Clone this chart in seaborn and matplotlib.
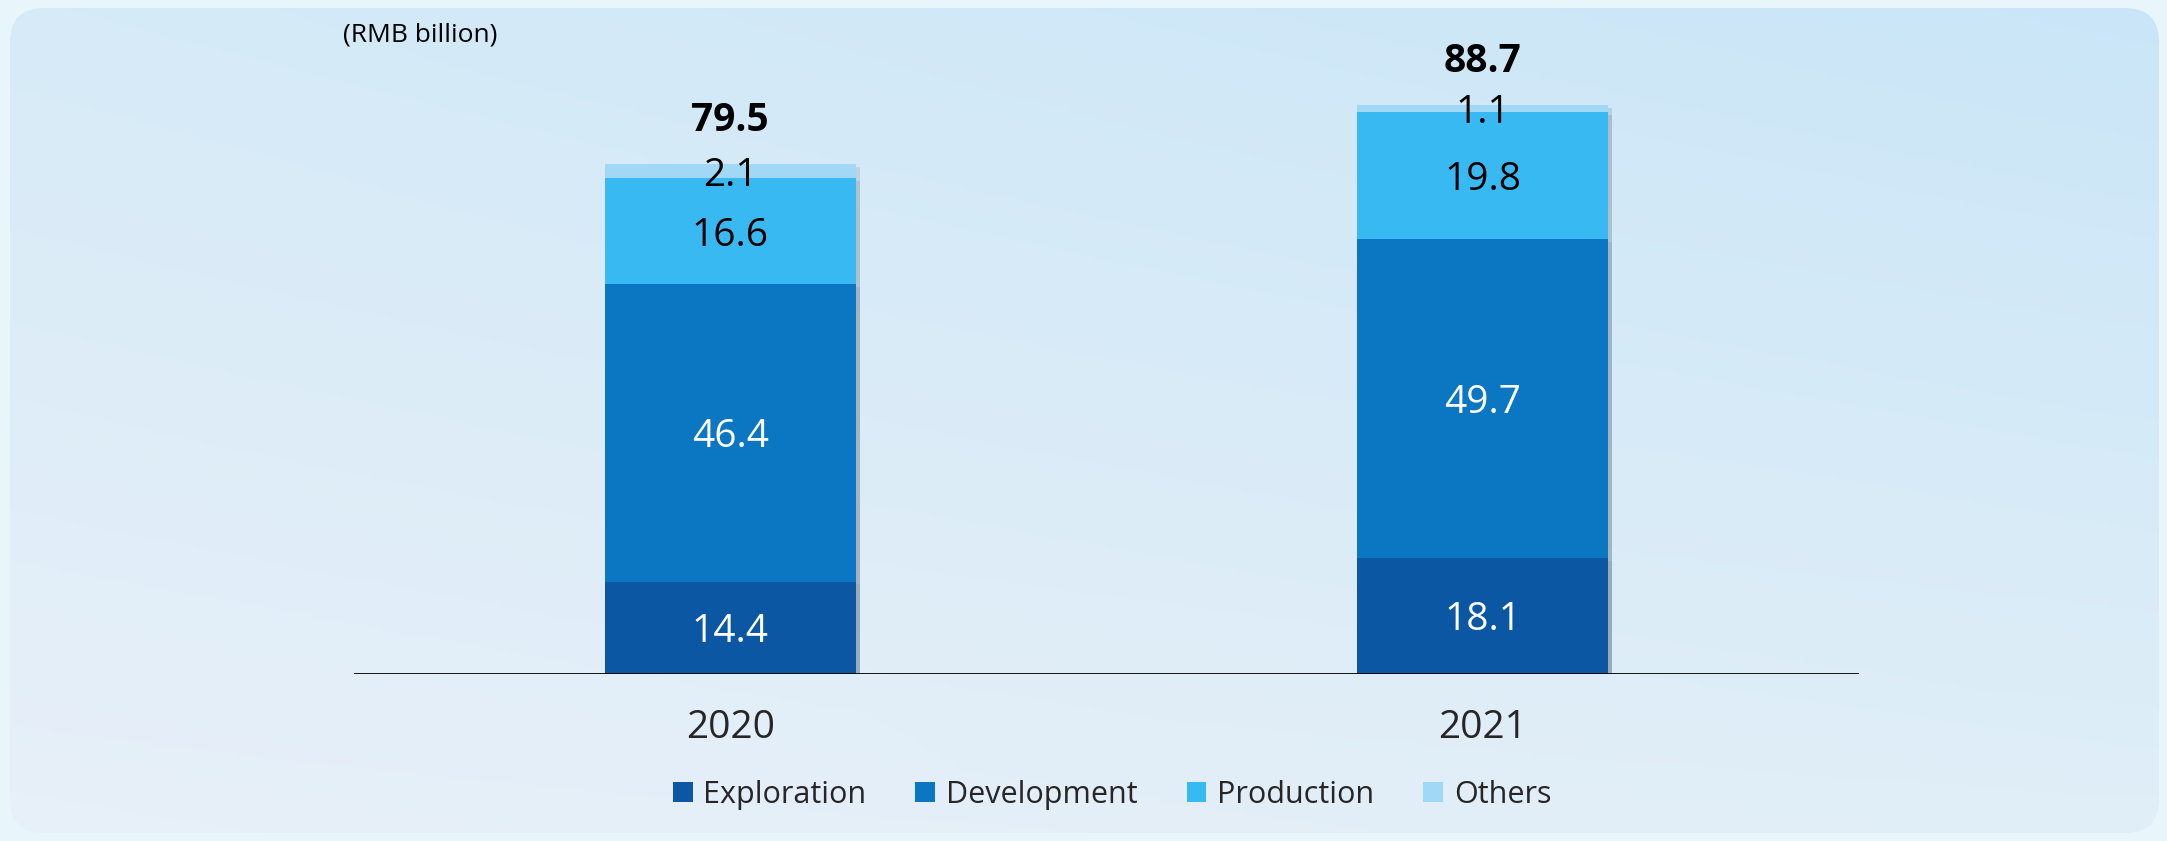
import numpy as np
import pandas as pd
import matplotlib
matplotlib.use("Agg")
import matplotlib.pyplot as plt
import matplotlib.patheffects as pe
from matplotlib.patches import FancyBboxPatch, Patch
import seaborn as sns

# Capital expenditure by activity (RMB billion)
years = ["2020", "2021"]
categories = ["Exploration", "Development", "Production", "Others"]
exploration = [14.4, 18.1]
development = [46.4, 49.7]
production = [16.6, 19.8]
others = [2.1, 1.1]

colors = ["#0B57A4", "#0B76C1", "#39B9F1", "#A0D8F5"]
label_colors = ["white", "white", "black", "black"]

sns.set_theme(style="white")
plt.rcParams["font.family"] = ["Open Sans", "DejaVu Sans"]

W, H = 2167, 841
fig = plt.figure(figsize=(W / 100, H / 100), dpi=100)
fig.patch.set_facecolor("#E8F6FC")

# Soft gradient panel with rounded corners behind the chart
bg = fig.add_axes([0, 0, 1, 1], zorder=-10)
bg.set_xlim(0, W)
bg.set_ylim(0, H)
bg.axis("off")
gx = np.linspace(0, 1, 256)
gy = np.linspace(0, 1, 256)
GX, GY = np.meshgrid(gx, gy)
top_l = np.array([0.84, 0.92, 0.97])
top_r = np.array([0.79, 0.90, 0.97])
bot_l = np.array([0.91, 0.94, 0.975])
bot_r = np.array([0.88, 0.935, 0.97])
img = ((1 - GX)[..., None] * ((1 - GY)[..., None] * bot_l + GY[..., None] * top_l)
       + GX[..., None] * ((1 - GY)[..., None] * bot_r + GY[..., None] * top_r))
im = bg.imshow(img, extent=[0, W, 0, H], origin="lower", aspect="auto")
panel = FancyBboxPatch((10, 8), W - 18, H - 16,
                       boxstyle="round,pad=0,rounding_size=34",
                       facecolor="none", edgecolor="none")
bg.add_patch(panel)
im.set_clip_path(panel)

ax = fig.add_axes([354 / W, 1 - 674 / H, 1505 / W, 641 / H])
ax.set_facecolor("none")

df = pd.DataFrame({"year": years, "Exploration": exploration,
                   "Development": development, "Production": production,
                   "Others": others})
layers = df[categories].cumsum(axis=1)
totals = layers["Others"].values

shadow = [pe.SimplePatchShadow(offset=(3, -2), shadow_rgbFace="#7d8f9c", alpha=0.25),
          pe.Normal()]

# Stacked bars drawn back to front from the cumulative totals
for cat, col in zip(categories[::-1], colors[::-1]):
    sns.barplot(x=df["year"], y=layers[cat], color=col, width=0.333,
                saturation=1, ax=ax, zorder=2)

for bar in ax.patches:
    bar.set_path_effects(shadow)
    bar.set_edgecolor("none")

# Segment values and bar totals
for i in range(len(years)):
    base = 0.0
    for cat, lc in zip(categories, label_colors):
        v = df[cat].iloc[i]
        ax.text(i, base + v / 2, f"{v:.1f}", ha="center", va="center_baseline",
                fontsize=28, color=lc, zorder=5)
        base += v
    ax.annotate(f"{totals[i]:.1f}", (i, totals[i]), xytext=(0, 35),
                textcoords="offset points", ha="center", va="center_baseline",
                fontsize=28, fontweight="bold", color="black", zorder=5)

ax.axhline(0, color="black", lw=2, zorder=6)
ax.set_xlim(-0.5, 1.5)
ax.set_ylim(0, 100)
ax.set_xlabel("")
ax.set_ylabel("")
ax.set_yticks([])
ax.tick_params(axis="x", length=0, pad=25, labelsize=28)
for s in ax.spines.values():
    s.set_visible(False)

fig.text(343 / W, 1 - 35 / H, "(RMB billion)", fontsize=19, ha="left",
         va="center", color="black")

handles = [Patch(facecolor=c, edgecolor="none", label=l)
           for c, l in zip(colors, categories)]
fig.legend(handles=handles, loc="center", bbox_to_anchor=(1112 / W, 1 - 795 / H),
           ncol=4, frameon=False, fontsize=22, handlelength=0.65,
           handleheight=0.65, handletextpad=0.35, columnspacing=1.6)

fig.savefig("out.png", dpi=100)
